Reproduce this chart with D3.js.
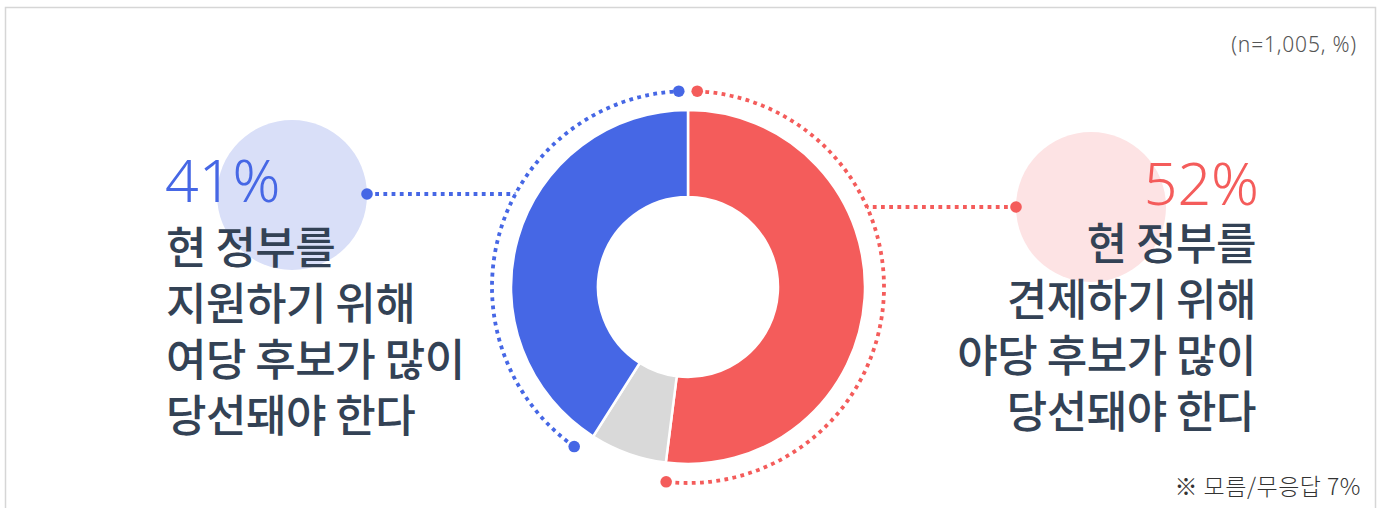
<!DOCTYPE html>
<html><head><meta charset="utf-8">
<script src="https://cdn.jsdelivr.net/npm/d3@7"></script>
<style>
html,body{margin:0;padding:0;background:#fff;}
svg{display:block;}
</style></head>
<body>
<svg id="chart" width="1384" height="508"></svg>
<script>
// ---- data ----
const categories = ["야당 후보 당선", "모름/무응답", "여당 후보 당선"];
const values = [52, 7, 41];
const colors = ["#f45c5b", "#d9d9d9", "#4667e5"];
const lightColors = {red: "#fde3e4", blue: "#d9dff8"};
const leftPct = "41%";
const rightPct = "52%";
const leftLines = ["현 정부를", "지원하기 위해", "여당 후보가 많이", "당선돼야 한다"];
const rightLines = ["현 정부를", "견제하기 위해", "야당 후보가 많이", "당선돼야 한다"];
const sampleNote = "(n=1,005, %)";
const footNote = "※ 모름/무응답 7%";

// ---- layout ----
const svg = d3.select("#chart");
const cx = 688, cy = 287, rOuter = 177, rInner = 90, rDot = 196;
const textColor = "#334255";
const deg = Math.PI / 180;

// frame
svg.append("path")
  .attr("d", "M5.5,520 L5.5,7.5 L1375.5,7.5 L1375.5,520")
  .attr("fill", "none").attr("stroke", "#d6d6d6").attr("stroke-width", 1.5);

// light circles
svg.append("circle").attr("cx", 292).attr("cy", 195).attr("r", 75).attr("fill", lightColors.blue);
svg.append("circle").attr("cx", 1091).attr("cy", 207).attr("r", 75).attr("fill", lightColors.red);

// donut
const pie = d3.pie().sort(null).value(d => d)(values);
const arc = d3.arc().innerRadius(rInner).outerRadius(rOuter);
const g = svg.append("g").attr("transform", `translate(${cx},${cy})`);
g.selectAll("path.seg").data(pie).join("path")
  .attr("class", "seg")
  .attr("d", arc)
  .attr("fill", (d, i) => colors[i])
  .attr("stroke", "#fff").attr("stroke-width", 2.5);

// dotted arcs around red and blue segments
const dash = "3.8 4.4", dashW = 3.8, endR = 5.8;
function dottedArc(a0, a1, color) {
  const p = d3.path();
  p.arc(0, 0, rDot, a0 - Math.PI / 2, a1 - Math.PI / 2, false);
  g.append("path").attr("d", p.toString())
    .attr("fill", "none").attr("stroke", color)
    .attr("stroke-width", dashW).attr("stroke-dasharray", dash);
  [a0, a1].forEach(a => {
    g.append("circle")
      .attr("cx", rDot * Math.sin(a)).attr("cy", -rDot * Math.cos(a))
      .attr("r", endR).attr("fill", color);
  });
}
const red = pie[0], blue = pie[2];
dottedArc(red.startAngle + 2.7 * deg, red.endAngle - 0.8 * deg, colors[0]);
dottedArc(blue.startAngle + 3.1 * deg, blue.endAngle - 2.7 * deg, colors[2]);

// connectors
function connector(x0, y, toRight, color) {
  const dx = Math.sqrt(rDot * rDot - (y - cy) * (y - cy));
  const xArc = toRight ? cx - dx : cx + dx;
  svg.append("line").attr("x1", x0).attr("x2", xArc).attr("y1", y).attr("y2", y)
    .attr("stroke", color).attr("stroke-width", dashW).attr("stroke-dasharray", dash);
  svg.append("circle").attr("cx", x0).attr("cy", y).attr("r", endR).attr("fill", color);
}
connector(367, 194, true, colors[2]);
connector(1016, 207, false, colors[0]);

// percentage labels
svg.append("text").attr("x", 165).attr("y", 202)
  .attr("font-family", "'Noto Sans', sans-serif").attr("font-weight", 300)
  .attr("font-size", 59).attr("fill", colors[2]).text(leftPct);
svg.append("text").attr("x", 1259).attr("y", 205).attr("text-anchor", "end")
  .attr("font-family", "'Noto Sans', sans-serif").attr("font-weight", 300)
  .attr("font-size", 59).attr("fill", colors[0]).text(rightPct);

// description labels
const kfont = "'Noto Sans CJK KR', 'Noto Sans KR', sans-serif";
svg.append("g").selectAll("text").data(leftLines).join("text")
  .attr("x", 166).attr("y", (d, i) => 264 + i * 56)
  .attr("font-family", kfont).attr("font-weight", 500).attr("font-size", 44)
  .attr("letter-spacing", -0.5).attr("fill", textColor).text(d => d);
svg.append("g").selectAll("text").data(rightLines).join("text")
  .attr("x", 1256).attr("y", (d, i) => 260 + i * 56).attr("text-anchor", "end")
  .attr("font-family", kfont).attr("font-weight", 500).attr("font-size", 44)
  .attr("letter-spacing", -0.5).attr("fill", textColor).text(d => d);

// notes
svg.append("text").attr("x", 1357).attr("y", 52).attr("text-anchor", "end")
  .attr("font-family", "'Noto Sans', sans-serif").attr("font-weight", 300)
  .attr("font-size", 21).attr("letter-spacing", 0.8).attr("fill", "#555").text(sampleNote);
svg.append("text").attr("x", 1361).attr("y", 495).attr("text-anchor", "end")
  .attr("font-family", kfont).attr("font-weight", 300)
  .attr("font-size", 23).attr("letter-spacing", 0.5).attr("fill", "#333").text(footNote);
</script>
</body></html>
